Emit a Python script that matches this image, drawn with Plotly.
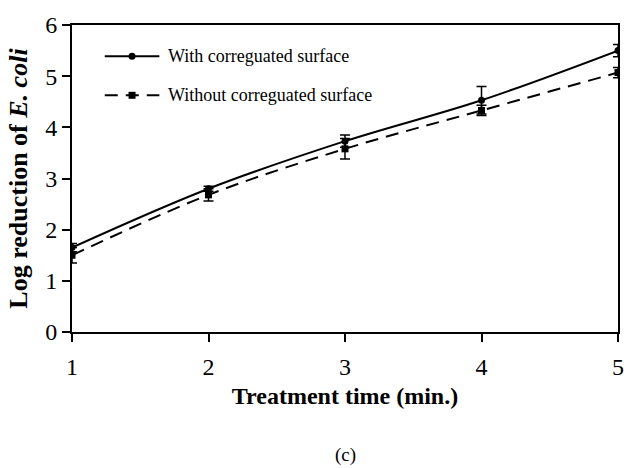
import plotly.graph_objects as go

time_min = [1, 2, 3, 4, 5]
with_surface = [1.65, 2.80, 3.73, 4.53, 5.50]
with_err = [0.08, 0.05, 0.12, 0.27, 0.12]
without_surface = [1.50, 2.68, 3.58, 4.33, 5.07]
without_err = [0.15, 0.12, 0.20, 0.10, 0.10]
series_names = ["With correguated surface", "Without correguated surface"]

FONT = "Liberation Serif, Times New Roman, serif"
DASH = "13px,8px"

fig = go.Figure()
fig.add_trace(go.Scatter(
    x=time_min, y=with_surface, name=series_names[0],
    mode="lines+markers", line=dict(color="black", width=2, shape="spline"),
    marker=dict(symbol="circle", size=7, color="black"),
    error_y=dict(type="data", array=with_err, color="black", thickness=1.5, width=5),
))
fig.add_trace(go.Scatter(
    x=time_min, y=without_surface, name=series_names[1],
    mode="lines+markers", line=dict(color="black", width=2, dash=DASH, shape="spline"),
    marker=dict(symbol="square", size=7, color="black"),
    error_y=dict(type="data", array=without_err, color="black", thickness=1.5, width=5),
))

fig.update_layout(
    width=636, height=468,
    margin=dict(l=72, r=14, t=18, b=136),
    paper_bgcolor="white", plot_bgcolor="white",
    font=dict(family=FONT, color="black", size=22),
    showlegend=False,
    xaxis=dict(range=[1, 5], tickvals=time_min, showgrid=False, zeroline=False,
               showline=True, linecolor="black", linewidth=2, mirror=True,
               ticks="outside", ticklen=8, tickwidth=2, tickcolor="black",
               tickfont=dict(size=24, family=FONT), ticklabelstandoff=4,
               title=dict(text="<b>Treatment time (min.)</b>", font=dict(size=24, family=FONT), standoff=8)),
    yaxis=dict(range=[0, 6], dtick=1, showgrid=False, zeroline=False,
               showline=True, linecolor="black", linewidth=2, mirror=True,
               ticks="outside", ticklen=8, tickwidth=2, tickcolor="black",
               tickfont=dict(size=24, family=FONT),
               title=dict(text="<b>Log reduction of <i>E. coli</i></b>", font=dict(size=26, family=FONT), standoff=10)),
)

# manual legend
leg_y = [0.898, 0.771]
x0, x1, xm, xt = 0.06, 0.16, 0.11, 0.173
for i, (name, y) in enumerate(zip(series_names, leg_y)):
    if i == 0:
        fig.add_shape(type="line", xref="paper", yref="paper", x0=x0, x1=x1, y0=y, y1=y,
                      line=dict(color="black", width=2))
        fig.add_shape(type="circle", xref="paper", yref="paper", xsizemode="pixel", ysizemode="pixel",
                      xanchor=xm, yanchor=y, x0=-3.5, x1=3.5, y0=-3.5, y1=3.5,
                      fillcolor="black", line=dict(color="black", width=0))
    else:
        fig.add_shape(type="line", xref="paper", yref="paper", x0=x0, x1=x1, y0=y, y1=y,
                      line=dict(color="black", width=2, dash=DASH))
        fig.add_shape(type="rect", xref="paper", yref="paper", xsizemode="pixel", ysizemode="pixel",
                      xanchor=xm, yanchor=y, x0=-3.5, x1=3.5, y0=-3.5, y1=3.5,
                      fillcolor="black", line=dict(color="black", width=0))
    fig.add_annotation(text=name, xref="paper", yref="paper", x=xt, y=y, xanchor="left",
                       yanchor="middle", showarrow=False, font=dict(size=18, family=FONT))

fig.add_annotation(text="(c)", xref="paper", yref="paper", x=0.5, y=-0.40,
                   showarrow=False, font=dict(size=19, family=FONT), yanchor="middle")

fig.write_html("out.html")
